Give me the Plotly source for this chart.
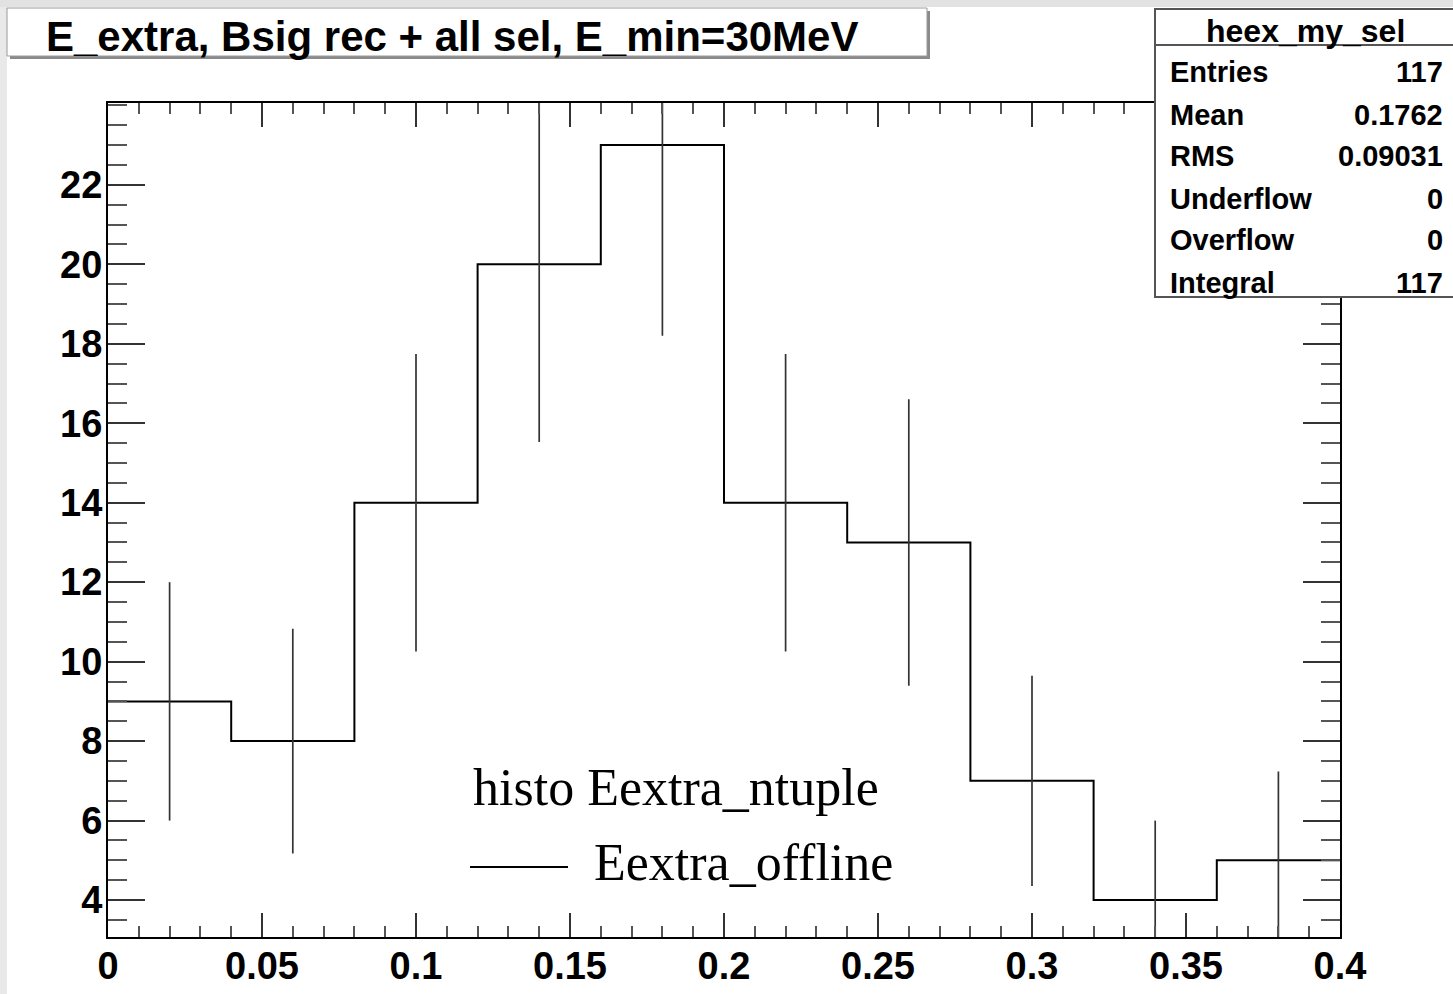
import math
import plotly.graph_objects as go

# ---------------- data ----------------
bin_low = 0.0
bin_width = 0.04
counts = [9, 8, 14, 20, 23, 14, 13, 7, 4, 5]

x_tick_vals = [0.0, 0.05, 0.1, 0.15, 0.2, 0.25, 0.3, 0.35, 0.4]
x_tick_text = ["0", "0.05", "0.1", "0.15", "0.2", "0.25", "0.3", "0.35", "0.4"]
y_tick_vals = [4, 6, 8, 10, 12, 14, 16, 18, 20, 22]
y_tick_text = ["4", "6", "8", "10", "12", "14", "16", "18", "20", "22"]

title_text = "E_extra, Bsig rec + all sel, E_min=30MeV"
stats_name = "heex_my_sel"
stats_labels = ["Entries", "Mean", "RMS", "Underflow", "Overflow", "Integral"]
stats_values = ["117", "0.1762", "0.09031", "0", "0", "117"]
legend_lines = ["histo Eextra_ntuple", "Eextra_offline"]

x_range = [0.0, 0.4]
y_range = [3.07, 24.06]

# ---------------- layout geometry (pixels) ----------------
W, H = 1453, 994
L, R, T, B = 108, 1340, 103, 937   # plot area in pixels


def px(xp):
    return (xp - L) / (R - L)


def py(yp):
    return (B - yp) / (B - T)


edges = [bin_low + i * bin_width for i in range(len(counts) + 1)]
centers = [bin_low + (i + 0.5) * bin_width for i in range(len(counts))]
errors = [math.sqrt(c) for c in counts]

fig = go.Figure()

# histogram outline (step)
fig.add_trace(go.Scatter(
    x=edges, y=counts + [counts[-1]],
    mode="lines", line=dict(color="black", width=2, shape="hv"),
    hoverinfo="skip", showlegend=False,
))

# error bars
fig.add_trace(go.Scatter(
    x=centers, y=counts, mode="markers",
    marker=dict(size=0.1, color="rgba(0,0,0,0)"),
    error_y=dict(type="data", array=errors, visible=True, width=0,
                 thickness=1.7, color="#333333"),
    hoverinfo="skip", showlegend=False,
))

tickfont = dict(family="Liberation Sans", size=38, color="black", weight="bold")

fig.update_layout(
    width=W, height=H,
    margin=dict(l=L, r=W - R, t=T, b=H - B, pad=0, autoexpand=False),
    paper_bgcolor="white", plot_bgcolor="white",
    showlegend=False,
    xaxis=dict(
        range=x_range, showgrid=False, zeroline=False, automargin=False,
        showline=True, linecolor="black", linewidth=2, mirror="ticks",
        ticks="inside", ticklen=24, tickwidth=1.6, tickcolor="#333",
        tickmode="array", tickvals=x_tick_vals, ticktext=x_tick_text,
        tickangle=0, ticklabelstandoff=-6,
        tickfont=tickfont,
        minor=dict(dtick=0.01, tick0=0, ticks="inside", ticklen=11,
                   tickwidth=1.6, tickcolor="#555", showgrid=False),
    ),
    yaxis=dict(
        range=y_range, showgrid=False, zeroline=False, automargin=False,
        showline=True, linecolor="black", linewidth=2, mirror="ticks",
        ticks="inside", ticklen=37, tickwidth=1.6, tickcolor="#333",
        tickmode="array", tickvals=y_tick_vals, ticktext=y_tick_text,
        ticklabelstandoff=-4,
        tickfont=tickfont,
        minor=dict(dtick=0.5, tick0=0, ticks="inside", ticklen=19,
                   tickwidth=1.6, tickcolor="#555", showgrid=False),
    ),
)

shapes = []
# background strips from the screenshot
shapes.append(dict(type="rect", xref="paper", yref="paper",
                   x0=px(0), x1=px(7), y0=py(H), y1=py(0),
                   fillcolor="#e9e9e9", line=dict(width=0), layer="below"))
shapes.append(dict(type="rect", xref="paper", yref="paper",
                   x0=px(0), x1=px(W), y0=py(7), y1=py(0),
                   fillcolor="#e2e2e2", line=dict(width=0), layer="below"))

# title box with shadow
shapes.append(dict(type="rect", xref="paper", yref="paper",
                   x0=px(10), x1=px(930), y0=py(59), y1=py(11),
                   fillcolor="#8a8a8a", line=dict(width=0)))
shapes.append(dict(type="rect", xref="paper", yref="paper",
                   x0=px(7), x1=px(927), y0=py(56), y1=py(8),
                   fillcolor="white", line=dict(color="#9a9a9a", width=1)))

# stats box
shapes.append(dict(type="rect", xref="paper", yref="paper",
                   x0=px(1155), x1=px(1470), y0=py(297), y1=py(9),
                   fillcolor="white", line=dict(color="#555", width=2)))
shapes.append(dict(type="line", xref="paper", yref="paper",
                   x0=px(1155), x1=px(1453), y0=py(45), y1=py(45),
                   line=dict(color="#555", width=2)))

# legend line sample
shapes.append(dict(type="line", xref="paper", yref="paper",
                   x0=px(470), x1=px(568), y0=py(867), y1=py(867),
                   line=dict(color="black", width=2)))

annotations = []
annotations.append(dict(xref="paper", yref="paper", x=px(44), y=py(36),
                        xanchor="left", yanchor="middle", showarrow=False,
                        text=title_text,
                        font=dict(family="Liberation Sans", size=42,
                                  color="black", weight="bold")))
annotations.append(dict(xref="paper", yref="paper", x=px(1305), y=py(31),
                        xanchor="center", yanchor="middle", showarrow=False,
                        text=stats_name,
                        font=dict(family="Liberation Sans", size=32,
                                  color="black", weight="bold")))
row_y = [72, 115, 156, 199, 240, 283]
sfont = dict(family="Liberation Sans", size=29, color="black", weight="bold")
for lab, val, yy in zip(stats_labels, stats_values, row_y):
    annotations.append(dict(xref="paper", yref="paper", x=px(1168), y=py(yy),
                            xanchor="left", yanchor="middle", showarrow=False,
                            text=lab, font=sfont))
    annotations.append(dict(xref="paper", yref="paper", x=px(1445), y=py(yy),
                            xanchor="right", yanchor="middle", showarrow=False,
                            text=val, font=sfont))

lfont = dict(family="Liberation Serif", size=52, color="black")
annotations.append(dict(xref="paper", yref="paper", x=px(471), y=py(787),
                        xanchor="left", yanchor="middle", showarrow=False,
                        text=legend_lines[0], font=lfont))
annotations.append(dict(xref="paper", yref="paper", x=px(592), y=py(862),
                        xanchor="left", yanchor="middle", showarrow=False,
                        text=legend_lines[1], font=lfont))

fig.update_layout(shapes=shapes, annotations=annotations)

fig.write_html("out.html")
